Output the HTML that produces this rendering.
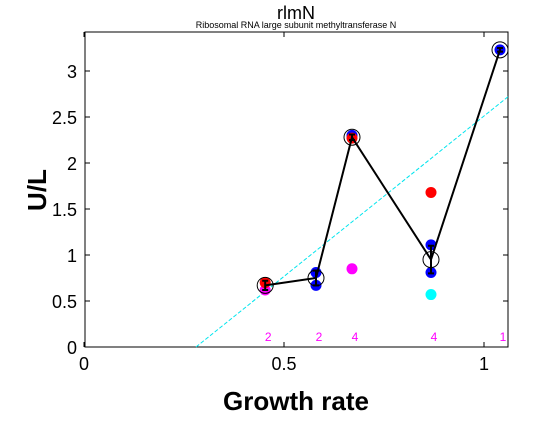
<!DOCTYPE html>
<html><head><meta charset="utf-8"><style>
body{margin:0;background:#fff;width:560px;height:420px;overflow:hidden}
svg text{font-family:"Liberation Sans",sans-serif}
</style></head><body>
<svg id="chart" width="560" height="420">
<rect x="0" y="0" width="560" height="420" fill="#fff"/>
<text x="296" y="19" font-size="18" text-anchor="middle">rlmN</text>
<text x="296" y="28" font-size="9" text-anchor="middle">Ribosomal RNA large subunit methyltransferase N</text>
<text transform="translate(46,190) rotate(-90)" font-size="26" font-weight="bold" text-anchor="middle">U/L</text>
<text x="296" y="410" font-size="26" font-weight="bold" text-anchor="middle">Growth rate</text>
<g id="axes"></g>
<g id="marks"></g>
</svg>
<script>
const xTicks=[0,0.5,1];
const xTickLabels=["0","0.5","1"];
const yTicks=[0,0.5,1,1.5,2,2.5,3];
const yTickLabels=["0","0.5","1","1.5","2","2.5","3"];
const growth=[0.453,0.58,0.67,0.8675,1.04];
const meanUL=[0.67,0.75,2.28,0.95,3.23];
const errUL=[0.05,0.08,0.03,0.15,0.02];
const counts=["2","2","4","4","1"];
const redX=[0.453,0.67,0.8675];
const redY=[0.70,2.27,1.68];
const blueX=[0.58,0.58,0.67,0.8675,0.8675,1.04];
const blueY=[0.81,0.67,2.30,1.11,0.81,3.23];
const magentaX=[0.453,0.67];
const magentaY=[0.62,0.85];
const cyanX=[0.8675];
const cyanY=[0.57];
const fitX=[0.28,1.06];
const fitY=[0,2.72];
const L=85,R=508,T=32,B=347,X0=84,XU=400,YU=92;
const sx=v=>X0+v*XU, sy=v=>B-v*YU;
const NS="http://www.w3.org/2000/svg";
function mk(tag,attrs,parent){const e=document.createElementNS(NS,tag);for(const k in attrs)e.setAttribute(k,attrs[k]);parent.appendChild(e);return e;}
const ax=document.getElementById('axes'),mg=document.getElementById('marks');
const frame=mk('rect',{x:L,y:T,width:R-L,height:B-T,fill:'none',stroke:'#000','stroke-width':1},ax);


xTicks.forEach((t,i)=>{const x=sx(t);
mk('line',{x1:x,y1:B,x2:x,y2:B-5,stroke:'#000'},ax);mk('line',{x1:x,y1:T,x2:x,y2:T+5,stroke:'#000'},ax);
const tx=mk('text',{x:x,y:B+23,'font-size':18,'text-anchor':'middle'},ax);tx.textContent=xTickLabels[i];

});
yTicks.forEach((t,i)=>{const y=sy(t);
mk('line',{x1:L,y1:y,x2:L+5,y2:y,stroke:'#000'},ax);mk('line',{x1:R,y1:y,x2:R-5,y2:y,stroke:'#000'},ax);
const tx=mk('text',{x:L-8,y:y+7,'font-size':18,'text-anchor':'end'},ax);tx.textContent=yTickLabels[i];

});
const fit=mk('line',{x1:sx(fitX[0]),y1:sy(fitY[0]),x2:sx(fitX[1]),y2:sy(fitY[1]),stroke:'#00e5ee','stroke-width':1,'stroke-dasharray':'4,2'},mg);


function dots(xs,ys,col,name){xs.forEach((x,i)=>{const c=mk('circle',{cx:sx(x),cy:sy(ys[i]),r:5.5,fill:col},mg);

});}
dots(magentaX,magentaY,'#ff00ff','magenta-point');
dots(cyanX,cyanY,'#00ffff','cyan-point');
dots(blueX,blueY,'#0000ff','blue-point');
dots(redX,redY,'#ff0000','red-point');
const line=mk('polyline',{points:growth.map((g,i)=>sx(g)+','+sy(meanUL[i])).join(' '),fill:'none',stroke:'#000','stroke-width':2},mg);


growth.forEach((g,i)=>{const x=sx(g),y1=sy(meanUL[i]-errUL[i]),y2=sy(meanUL[i]+errUL[i]);
const eb=mk('path',{d:`M${x},${y1}V${y2}M${x-3},${y1}H${x+3}M${x-3},${y2}H${x+3}`,stroke:'#000','stroke-width':2,fill:'none'},mg);


const c=mk('circle',{cx:x,cy:sy(meanUL[i]),r:8,fill:'none',stroke:'#000','stroke-width':1},mg);


const t=mk('text',{x:x+3,y:341,'font-size':12,fill:'#ff00ff','text-anchor':'middle'},mg);t.textContent=counts[i];

});
</script>
</body></html>
